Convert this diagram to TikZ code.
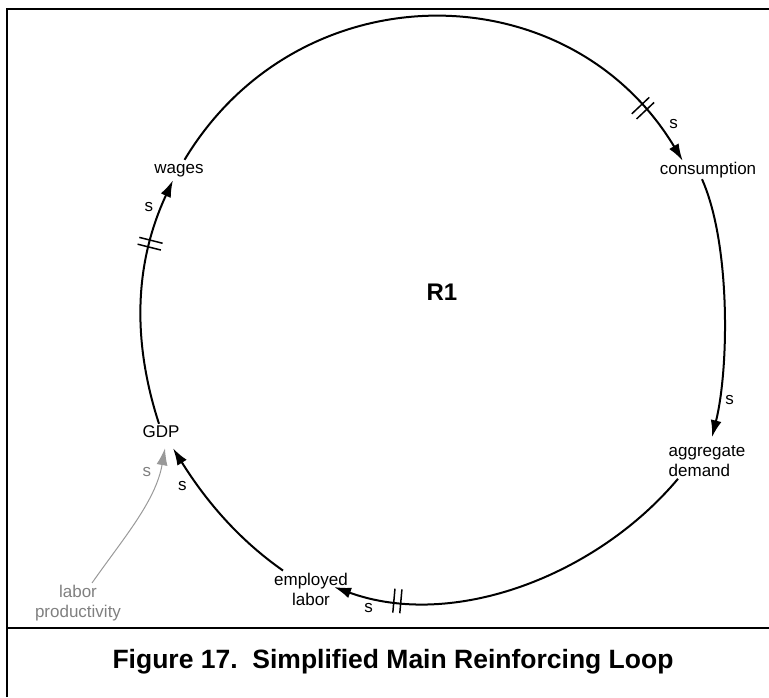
\documentclass[tikz,border=0pt]{standalone}
\usepackage{fontspec}
\setmainfont{Liberation Sans}
\usetikzlibrary{arrows.meta}
\usetikzlibrary{decorations.markings}

\begin{document}
\begin{tikzpicture}[every node/.style={inner sep=2pt,text=black,font=\fontsize{17pt}{20pt}\selectfont},
	var/.style={text height=11pt,text depth=3pt},
	sign/.style={auto,inner sep=4pt},
	delay/.style={postaction={decorate,
		decoration={markings,mark=at position #1 with {\draw[-,line width=1.5pt] (-3.5pt,-12pt) -- (-3.5pt,12pt) (3.5pt,-12pt) -- (3.5pt,12pt);}}}},
	every edge/.style={
	draw,line width=2pt, ->, >={Latex[length=17pt,width=11pt]}
        }
]
\useasboundingbox (0pt,0pt) rectangle (769pt,-697pt);
\draw[line width=2.5pt] (7pt,-697pt) -- (7pt,-9pt) -- (769pt,-9pt) (7pt,-628pt) -- (769pt,-628pt);
\node (r1) [font=\bfseries\fontsize{24pt}{28pt}\selectfont] at (442pt, -292pt) {R1};
\node (wages) [var] at (179pt, -169pt) {wages};
\node (consumption) [var] at (708pt, -170pt) {consumption};
\node (aggdemand) [align=left] at (707pt, -461pt) {aggregate\\demand};
\node (gdp) [var] at (161pt, -433pt) {GDP};
\node (emplabor) [align=center] at (311pt, -589pt) {employed\\labor};
\node (laborprod) [align=center,text=gray] at (78pt, -603pt) {labor\\productivity};
\node (caption) [font=\bfseries\fontsize{26.5pt}{30pt}\selectfont] at (393pt, -662pt) {Figure 17.\ \ Simplified Main Reinforcing Loop};
\path
(wages) edge[out=59,in=121,looseness=1.14,delay=0.89] node[sign,pos=0.95] {s} (consumption.160)
([xshift=-6pt]consumption.south) edge[out=-66,in=76,looseness=0.7] node[sign,pos=0.8] {s} ([xshift=5pt,yshift=6pt]aggdemand.north)
([xshift=-29pt]aggdemand.south) edge[out=-130,in=-20,looseness=0.9,delay=0.83] node[sign,pos=0.88] {s} ([xshift=-16pt,yshift=2pt]emplabor.east)
([xshift=-28pt]emplabor.north) edge[out=145,in=-58,looseness=0.9] node[sign,pos=0.8] {s} ([xshift=12pt,yshift=-6pt]gdp.south)
([xshift=-2pt]gdp.north) edge[out=108,in=-115,looseness=0.94,delay=0.73] node[sign,pos=0.85] {s} ([xshift=-6pt,yshift=-2pt]wages.south);
\path
(laborprod) edge[gray!80,line width=1pt,out=55,in=-100,looseness=0.9] node[sign,pos=0.78,text=gray] {s} ([xshift=4pt,yshift=-6pt]gdp.south);
\end{tikzpicture}
\end{document}
